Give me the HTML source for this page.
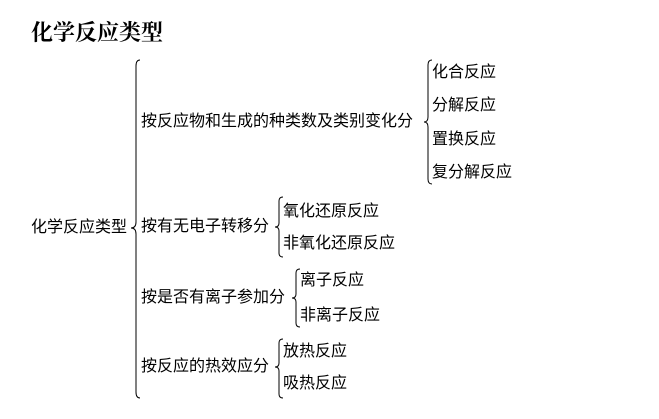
<!DOCTYPE html>
<html><head><meta charset="utf-8"><style>
body{margin:0;width:659px;height:419px;background:#fff;position:relative;overflow:hidden;font-family:"Liberation Sans","Noto Sans CJK SC",sans-serif;color:#000}
.t{position:absolute;font-size:16px;line-height:16px;white-space:nowrap}
.h{position:absolute;left:31px;top:16px;font-family:"Liberation Serif","Noto Serif CJK SC",serif;font-size:22px;font-weight:bold;white-space:nowrap}
svg{position:absolute;left:0;top:0}
</style></head><body>
<div class="h">化学反应类型</div>
<svg width="659" height="419" fill="none" stroke="#000" stroke-width="1">
<path d="M140,60 Q136,60 136,66 L136,222 Q136,228 131,228 Q136,228 136,234 L136,392 Q136,398 140,398"/>
<path d="M432,60 Q428,60 428,65 L428,117 Q428,122 424,122 Q428,122 428,127 L428,179 Q428,184 432,184"/>
<path d="M283,197 Q279,197 279,201 L279,223 Q279,227 275,227 Q279,227 279,231 L279,253 Q279,257 283,257"/>
<path d="M300,269 Q296,269 296,273 L296,294 Q296,298 292,298 Q296,298 296,302 L296,323 Q296,327 300,327"/>
<path d="M283,339 Q279,339 279,343 L279,363 Q279,367 275,367 Q279,367 279,371 L279,394 Q279,398 283,398"/>
</svg>
<div class="t" style="left:31px;top:220px">化学反应类型</div>
<div class="t" style="left:141px;top:114px">按反应物和生成的种类数及类别变化分</div>
<div class="t" style="left:432px;top:65px">化合反应</div>
<div class="t" style="left:432px;top:98px">分解反应</div>
<div class="t" style="left:432px;top:132px">置换反应</div>
<div class="t" style="left:432px;top:165px">复分解反应</div>
<div class="t" style="left:141px;top:219px">按有无电子转移分</div>
<div class="t" style="left:283px;top:204px">氧化还原反应</div>
<div class="t" style="left:283px;top:236px">非氧化还原反应</div>
<div class="t" style="left:141px;top:290px">按是否有离子参加分</div>
<div class="t" style="left:300px;top:273px">离子反应</div>
<div class="t" style="left:300px;top:308px">非离子反应</div>
<div class="t" style="left:141px;top:359px">按反应的热效应分</div>
<div class="t" style="left:283px;top:344px">放热反应</div>
<div class="t" style="left:283px;top:376px">吸热反应</div>
</body></html>
